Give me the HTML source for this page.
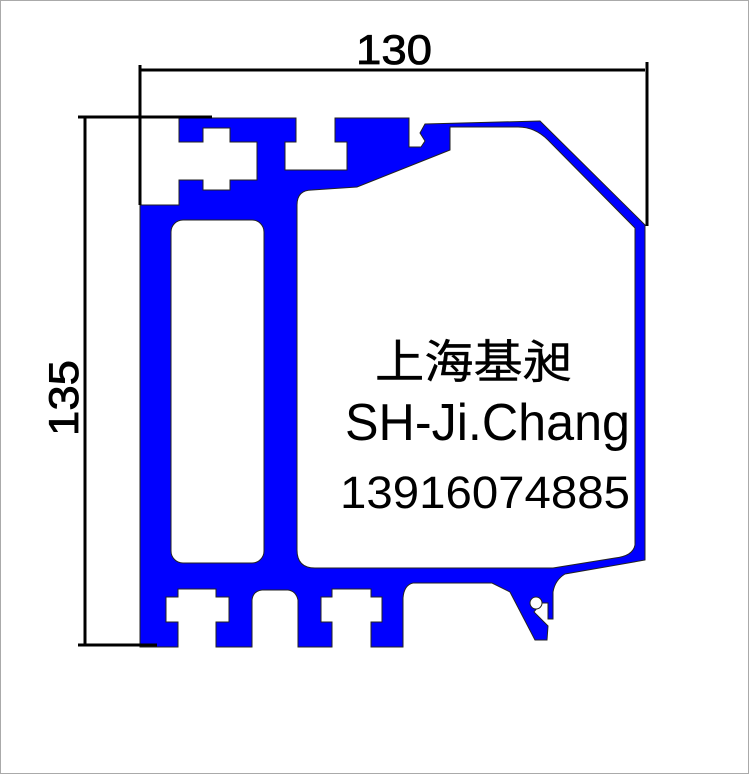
<!DOCTYPE html>
<html><head><meta charset="utf-8"><style>
html,body{margin:0;padding:0;background:#fff;}
svg{display:block;}
</style></head><body>
<svg width="750" height="776" viewBox="0 0 750 776" xmlns="http://www.w3.org/2000/svg">
<rect x="0.5" y="0.5" width="748" height="773" fill="#fff" stroke="#aaa" stroke-width="1"/>
<path fill="#0000ff" stroke="#222" stroke-width="1" d="
M179,118 L296,118 L296,142 L285,142 L285,170 L347,170 L347,142 L335,142 L335,118 L409,118 L409,147 L421,147 L425,141 L420,133 L425,124 L540,121 L645,225 L645,560
L565,574 Q555,580 553,592 L553,619 L548,619 L548,603 L541,603 L534,612 L548,626 L547,640 L535,640 L510,592 L492,583 L413,583 Q404,585 403,598 L403,647 L371,647 L371,622 L382,622 L382,597 L371,597 L371,589 L332,589 L332,597 L321,597 L321,622 L332,622 L332,647 L298,647 L298,600 Q296,591 288,590 L262,590 Q253,591 252,600 L252,647 L216,647 L216,622 L229,622 L229,597 L216,597 L216,589 L178,589 L178,597 L166,597 L166,622 L178,622 L178,647 L140,647 L140,205
L179,205 L179,180 L203,180 L203,190 L230,190 L230,180 L257,180 L257,142 L230,142 L230,128 L203,128 L203,142 L179,142 Z"/>
<rect x="171" y="220" width="93" height="343" rx="12" fill="#fff" stroke="#222" stroke-width="1"/>
<path fill="#fff" stroke="#222" stroke-width="1" d="M297,205 Q297,190 312,190 L357,187 L450,150 L450,127 L518,127 Q535,127 548,140 L635,228 L635,545 Q633,556 615,558 L553,568 L315,568 Q297,568 297,550 Z"/>
<circle cx="536" cy="603" r="6" fill="#fff" stroke="#222" stroke-width="1"/>
<g stroke="#000" stroke-width="3" fill="none">
<line x1="140" y1="70" x2="645" y2="70"/>
<line x1="140" y1="65" x2="140" y2="205"/>
<line x1="647" y1="62" x2="647" y2="226"/>
<line x1="85" y1="117" x2="85" y2="645"/>
<line x1="78" y1="117" x2="212" y2="117"/>
<line x1="78" y1="645" x2="157" y2="645"/>
</g>
<text x="394" y="64" font-family="Liberation Sans, sans-serif" font-size="42" text-anchor="middle" stroke="#000" stroke-width="0.8" textLength="76" lengthAdjust="spacingAndGlyphs">130</text>
<text transform="translate(78,398) rotate(-90)" font-family="Liberation Sans, sans-serif" font-size="42" text-anchor="middle" stroke="#000" stroke-width="0.8" textLength="76" lengthAdjust="spacingAndGlyphs">135</text>
<text x="375" y="378" font-family="Liberation Sans, 'Noto Sans CJK SC', sans-serif" font-size="46" textLength="197" lengthAdjust="spacingAndGlyphs" stroke="#000" stroke-width="0.4">上海基昶</text>
<text x="345" y="440" font-family="Liberation Sans, sans-serif" font-size="52" textLength="285" lengthAdjust="spacingAndGlyphs">SH-Ji.Chang</text>
<text x="340" y="508" font-family="Liberation Sans, sans-serif" font-size="45" textLength="290" lengthAdjust="spacingAndGlyphs">13916074885</text>
</svg>
</body></html>
